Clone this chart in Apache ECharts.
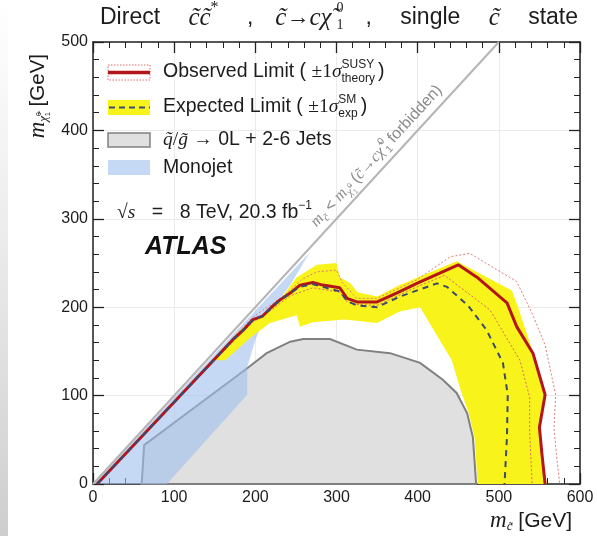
<!DOCTYPE html>
<html>
<head>
<meta charset="utf-8">
<script src="https://cdn.jsdelivr.net/npm/echarts@6/dist/echarts.min.js"></script>
<style>
  html, body { margin: 0; padding: 0; background: #fff; }
  #chart { width: 597px; height: 536px; }
</style>
</head>
<body>
<div id="chart"></div>
<script>
// axes (GeV)
const xRange = [0, 600]
const yRange = [0, 500]
const tickStep = 100

// kinematic boundary m_c = m_chi
const diagonal = [[0, 0], [500, 500]]

// q/g -> 0L + 2-6 jets exclusion (grey region)
const squarkGluinoRegion = [
  [60, 0], [63, 44], [190, 131], [214, 148], [243, 161], [259, 164], [292, 164],
  [325, 152], [366, 148], [403, 137], [431, 118], [448, 103], [461, 80], [468, 53],
  [470, 27], [472, 0]
]

// monojet exclusion (blue region)
const monojetRegion = [
  [0, 0], [267, 262], [243, 225], [224, 202], [208, 180], [200, 163], [190, 132],
  [190, 101], [91, 0]
]

// expected limit +-1 sigma band (outer edge then inner edge)
const expectedBand = [
  [150, 140], [181, 174], [208, 191], [230, 208], [251, 234], [276, 248], [300, 250],
  [304, 234], [317, 227], [326, 217], [350, 212], [378, 225], [448, 252], [516, 219],
  [523, 202], [542, 149], [557, 103], [550, 61], [559, 0],
  [474, 0], [472, 27], [470, 53], [463, 80], [453, 106], [442, 140], [403, 200],
  [378, 195], [350, 182], [310, 186], [271, 183], [255, 178], [251, 191], [218, 182],
  [193, 165], [163, 140]
]

const expectedLimit = [
  [5, 0], [172, 163], [185, 174], [197, 186], [209, 190], [220, 200], [230, 208],
  [243, 216], [255, 223], [271, 226], [283, 223], [304, 218], [313, 207], [325, 202],
  [350, 200], [378, 212], [424, 227], [436, 223], [462, 202], [485, 174], [505, 137],
  [511, 101], [510, 53], [507, 0]
]

const observedLimit = [
  [5, 0], [172, 163], [185, 174], [197, 186], [209, 190], [220, 200], [230, 208],
  [243, 216], [255, 225], [271, 228], [283, 225], [304, 222], [313, 210], [325, 206],
  [350, 206], [374, 216], [399, 227], [450, 248], [473, 234], [501, 212], [510, 205],
  [522, 178], [542, 148], [557, 101], [550, 64], [553, 35], [557, 0]
]

const observedTheoryUp = [
  [5, 0], [172, 165], [197, 189], [220, 203], [243, 219], [258, 232], [276, 240],
  [300, 242], [307, 228], [325, 210], [350, 210], [399, 231], [440, 257], [464, 261],
  [522, 229], [542, 191], [557, 157], [570, 101], [568, 64], [571, 33], [575, 0]
]

const observedTheoryDown = [
  [5, 0], [172, 161], [197, 183], [220, 197], [243, 213], [271, 222], [304, 217],
  [313, 206], [325, 203], [350, 202], [399, 223], [433, 236], [489, 197], [526, 140],
  [538, 98], [538, 58], [541, 0]
]

const SANS = '"Liberation Sans", Arial, sans-serif'
const SERIF = '"Liberation Serif", "DejaVu Serif", serif'
const TXT = '#1c1c1c'
const RED = '#b3151b'
const YELLOW = '#f9f31c'
const DASH = '#3c4a6e'

const chart = echarts.init(document.getElementById('chart'), null, {renderer: 'canvas'})

function polygonSeries(name, points, style) {
  return {
    type: 'custom',
    name: name,
    data: points,
    encode: {x: 0, y: 1},
    silent: true,
    renderItem(params, api) {
      if (params.dataIndex !== 0) return
      return {
        type: 'polygon',
        shape: {points: points.map(p => api.coord(p))},
        style: style
      }
    }
  }
}

function lineSeries(name, data, color, width, type) {
  return {
    type: 'line',
    name: name,
    data: data,
    symbol: 'none',
    silent: true,
    lineStyle: {color: color, width: width, type: type || 'solid'}
  }
}

const frameAxis = {
  type: 'value',
  min: xRange[0],
  interval: tickStep,
  axisLine: {show: true, onZero: false, lineStyle: {color: '#222', width: 1.5}},
  axisTick: {show: true, inside: true, length: 11, lineStyle: {color: '#222', width: 1.3}},
  minorTick: {show: true, splitNumber: 5, length: 6, lineStyle: {color: '#222', width: 1}},
  splitLine: {show: false}
}
const tickLabel = {fontSize: 16, color: TXT, fontFamily: SANS}

chart.setOption({
  animation: false,
  backgroundColor: '#fff',
  grid: {left: 93, right: 17, top: 42, bottom: 52},
  xAxis: [
    Object.assign({}, frameAxis, {
      max: xRange[1], position: 'bottom',
      axisLabel: Object.assign({margin: 6}, tickLabel),
      splitLine: {show: true, lineStyle: {color: '#ebebeb', width: 1}}
    }),
    Object.assign({}, frameAxis, {max: xRange[1], position: 'top', axisLabel: {show: false}})
  ],
  yAxis: [
    Object.assign({}, frameAxis, {
      min: yRange[0], max: yRange[1], position: 'left',
      axisLabel: Object.assign({margin: 5}, tickLabel),
      splitLine: {show: true, lineStyle: {color: '#ebebeb', width: 1}}
    }),
    Object.assign({}, frameAxis, {min: yRange[0], max: yRange[1], position: 'right', axisLabel: {show: false}})
  ],
  series: [
    polygonSeries('0L + 2-6 Jets', squarkGluinoRegion, {fill: '#e0e0e0', stroke: '#808080', lineWidth: 2}),
    polygonSeries('Monojet', monojetRegion, {fill: 'rgba(158,192,238,0.6)'}),
    polygonSeries('Expected band', expectedBand, {fill: YELLOW}),
    lineSeries('Kinematic limit', diagonal, '#b5b5b5', 2),
    lineSeries('Theory up', observedTheoryUp, '#e27a7a', 1, [2, 2]),
    lineSeries('Theory down', observedTheoryDown, '#d86a6a', 1, [2, 2]),
    lineSeries('Observed Limit', observedLimit, RED, 3),
    lineSeries('Expected Limit', expectedLimit, DASH, 2, [6, 5])
  ]
})

// ---- text with simple math layout ----
const mctx = document.createElement('canvas').getContext('2d')

function fontOf(p, size) {
  return (p.it ? 'italic ' : '') + (p.bold ? 'bold ' : '') + size + 'px ' + (p.serif ? SERIF : SANS)
}
function measure(text, f) {
  mctx.font = f
  return mctx.measureText(text).width
}
function textEl(text, x, y, f, color) {
  return {
    type: 'text', x: x, y: y, silent: true,
    style: {text: text, font: f, fill: color, align: 'left', verticalAlign: 'middle',
      textAlign: 'left', textVerticalAlign: 'middle'}
  }
}
// pieces laid out left to right around the middle line y = 0;
// if fitWidth is given, the spare room goes after the pieces marked sp
function mathRow(pieces, size, color, fitWidth) {
  function layout(extra) {
    let x = 0
    const els = []
    pieces.forEach(p => {
      const s = p.size || size
      const c = p.color || color
      const dy = p.dy || 0
      x += p.pre || 0
      if (p.sup != null || p.sub != null) {
        const f = fontOf(p, Math.round(s * 0.62))
        let w = 0
        if (p.sup != null) {
          els.push(textEl(p.sup, x, dy - s * 0.4, f, c))
          w = Math.max(w, measure(p.sup, f))
        }
        if (p.sub != null) {
          els.push(textEl(p.sub, x, dy + s * 0.32, f, c))
          w = Math.max(w, measure(p.sub, f))
        }
        x += w + (p.gap || 0)
      } else {
        const f = fontOf(p, s)
        els.push(textEl(p.t, x, dy, f, c))
        x += measure(p.t, f)
      }
      if (p.sp) x += extra
    })
    return {els: els, width: x}
  }
  const natural = layout(0)
  const nSp = pieces.filter(p => p.sp).length
  if (!fitWidth || !nSp || fitWidth <= natural.width) return natural
  return layout((fitWidth - natural.width) / nSp)
}
function group(row, x, y, rotation) {
  return {type: 'group', x: x, y: y, rotation: rotation || 0, silent: true, children: row.els}
}

const ct = 'c\u0303'
const chit = '\u03c7\u0303'

const titleRow = mathRow([
  {t: 'Direct ', sp: 1},
  {t: ct + ct, it: true, serif: true, size: 25},
  {sup: '*', serif: true, size: 25, sp: 1},
  {t: ' ,', sp: 1},
  {t: ct, it: true, serif: true, size: 25},
  {t: '\u2192'},
  {t: 'c', it: true, serif: true, size: 25},
  {t: chit, it: true, serif: true, size: 25},
  {sup: '0', sub: '1', serif: true, pre: 5, sp: 1},
  {t: ',', sp: 1},
  {t: ' single ', sp: 1},
  {t: ct, it: true, serif: true, size: 25, sp: 1},
  {t: ' state'}
], 23, TXT, 478)

const legendRows = [
  mathRow([{t: 'Observed Limit ( '}, {t: '\u00b11', serif: true}, {t: '\u03c3', it: true, serif: true},
    {sup: 'SUSY', sub: 'theory', gap: 3}, {t: ')'}], 19.5, TXT),
  mathRow([{t: 'Expected Limit ( '}, {t: '\u00b11', serif: true}, {t: '\u03c3', it: true, serif: true},
    {sup: 'SM', sub: 'exp', gap: 3}, {t: ')'}], 19.5, TXT),
  mathRow([{t: 'q\u0303', it: true, serif: true}, {t: '/', serif: true}, {t: 'g\u0303', it: true, serif: true},
    {t: ' \u2192 0L + 2-6 Jets'}], 19.5, TXT),
  mathRow([{t: 'Monojet'}], 19.5, TXT)
]
const legendY = [72, 107, 140, 168]

const energyRow = mathRow([{t: '\u221a', serif: true}, {t: 's', it: true, serif: true, sp: 1},
  {t: ' = ', sp: 1}, {t: '8 TeV, 20.3 fb'}, {sup: '\u22121'}], 19.5, TXT, 195)

const diagRow = mathRow([
  {t: 'm', it: true, serif: true}, {t: ct, it: true, serif: true, size: 11, dy: 5},
  {t: ' < '}, {t: 'm', it: true, serif: true}, {t: chit, it: true, serif: true, size: 11, dy: 5},
  {sup: '0', sub: '1', size: 12, dy: 5},
  {t: ' ('}, {t: ct, it: true, serif: true}, {t: '\u2192'}, {t: 'c', it: true, serif: true},
  {t: chit, it: true, serif: true}, {sup: '0', sub: '1', size: 16, pre: 2},
  {t: ' forbidden)'}
], 16, '#8a8a8a')

const yNameRow = mathRow([{t: 'm', it: true, serif: true, size: 23},
  {t: chit, it: true, serif: true, size: 13, dy: 6}, {sup: '0', sub: '1', size: 12, dy: 6},
  {t: ' [GeV]'}], 20.5, TXT)
const xNameRow = mathRow([{t: 'm', it: true, serif: true, size: 23},
  {t: ct, it: true, serif: true, size: 13, dy: 6}, {t: ' [GeV]'}], 21, TXT)

// orientation of the kinematic boundary on screen
const p0 = chart.convertToPixel({gridIndex: 0}, diagonal[0])
const p1 = chart.convertToPixel({gridIndex: 0}, diagonal[1])
const ang = Math.atan2(p0[1] - p1[1], p1[0] - p0[0])
const anchor = chart.convertToPixel({gridIndex: 0}, [361, 361])
const nx = -Math.sin(ang), ny = -Math.cos(ang)

const legendSymbols = [
  {type: 'rect', shape: {x: 108, y: 65, width: 42, height: 15},
    style: {fill: 'none', stroke: '#dd6a6a', lineWidth: 1, lineDash: [1.5, 1.5]}},
  {type: 'line', shape: {x1: 108, y1: 72.5, x2: 150, y2: 72.5}, style: {stroke: RED, lineWidth: 3.5}},
  {type: 'rect', shape: {x: 108, y: 100, width: 42, height: 15}, style: {fill: YELLOW}},
  {type: 'line', shape: {x1: 109, y1: 107.5, x2: 150, y2: 107.5},
    style: {stroke: DASH, lineWidth: 2, lineDash: [6, 4]}},
  {type: 'rect', shape: {x: 108, y: 133, width: 42, height: 14},
    style: {fill: '#e0e0e0', stroke: '#808080', lineWidth: 1.5}},
  {type: 'rect', shape: {x: 108, y: 160, width: 42, height: 15}, style: {fill: '#c5d9f5'}}
].map(e => Object.assign({silent: true}, e))

chart.setOption({
  graphic: [
    {type: 'rect', silent: true, shape: {x: 0, y: 0, width: 8, height: 536},
      style: {fill: new echarts.graphic.LinearGradient(0, 0, 0, 1, [
        {offset: 0, color: 'rgba(210,210,210,0)'}, {offset: 1, color: 'rgba(200,200,200,0.9)'}])}},
    group(titleRow, 100, 18),
    ...legendRows.map((r, i) => group(r, 163, legendY[i])),
    ...legendSymbols,
    group(energyRow, 117, 213),
    textEl('ATLAS', 145, 247, 'italic bold 25px ' + SANS, '#111'),
    group(diagRow, anchor[0] + nx * 13 - Math.cos(ang) * diagRow.width / 2,
      anchor[1] + ny * 13 + Math.sin(ang) * diagRow.width / 2, ang),
    group(yNameRow, 38, 54 + yNameRow.width, Math.PI / 2),
    group(xNameRow, 572 - xNameRow.width, 521)
  ]
})
</script>
</body>
</html>
